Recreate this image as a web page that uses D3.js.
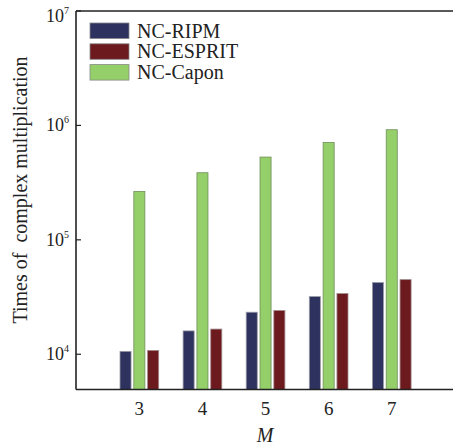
<!DOCTYPE html>
<html>
<head>
<meta charset="utf-8">
<script src="https://cdn.jsdelivr.net/npm/d3@7"></script>
<style>
  body { margin: 0; background: #fff; }
</style>
</head>
<body>
<svg id="chart" width="453" height="448" font-family="Liberation Serif" fill="#222"></svg>
<script>
// data
const Ms = [3, 4, 5, 6, 7];
const seriesNames = ["NC-RIPM", "NC-ESPRIT", "NC-Capon"];
const ripm   = [1.06e4, 1.60e4, 2.33e4, 3.19e4, 4.23e4];
const esprit = [1.08e4, 1.66e4, 2.41e4, 3.39e4, 4.49e4];
const capon  = [2.65e5, 3.86e5, 5.29e5, 7.10e5, 9.17e5];
const yTicks = [1e4, 1e5, 1e6, 1e7];

const colors = { "NC-RIPM": "#2d325e", "NC-ESPRIT": "#6c1a1e", "NC-Capon": "#95cf6a" };
const strokes = { "NC-RIPM": "#9a9aa6", "NC-ESPRIT": "#a08a8a", "NC-Capon": "#6f8f5a" };
// drawing order within a group: blue, green, red
const barOrder = ["NC-RIPM", "NC-Capon", "NC-ESPRIT"];
const values = { "NC-RIPM": ripm, "NC-ESPRIT": esprit, "NC-Capon": capon };

const svg = d3.select("#chart");
const plotL = 76, plotR = 453, plotT = 11, plotB = 389.5;

const x = d3.scaleBand().domain(Ms).range([107.8, 423.3]).padding(0);
const xs = d3.scaleBand().domain(barOrder).range([-19.35, 19.35]).paddingInner(0.2);
const y = d3.scaleLog().domain([Math.pow(10, 3.692), 1e7]).range([plotB, plotT]);

// bars
const groups = svg.append("g").selectAll("g")
  .data(Ms)
  .enter().append("g")
  .attr("transform", (d) => "translate(" + (x(d) + x.bandwidth() / 2) + ",0)");

groups.selectAll("rect")
  .data((d, i) => barOrder.map((s) => ({ s: s, v: values[s][i] })))
  .enter().append("rect")
  .attr("x", (d) => xs(d.s))
  .attr("width", xs.bandwidth())
  .attr("y", (d) => y(d.v))
  .attr("height", (d) => plotB - y(d.v))
  .attr("fill", (d) => colors[d.s])
  .attr("stroke", (d) => strokes[d.s])
  .attr("stroke-width", 0.8);

// frame: left, bottom, top
const frame = svg.append("g").attr("stroke", "#222").attr("stroke-width", 1.6).attr("fill", "none");
frame.append("line").attr("x1", plotL).attr("x2", plotL).attr("y1", plotT).attr("y2", plotB);
frame.append("line").attr("x1", plotL).attr("x2", plotR).attr("y1", plotB).attr("y2", plotB);
frame.append("line").attr("x1", plotL).attr("x2", plotR).attr("y1", plotT).attr("y2", plotT);

// y axis ticks (inward) with 10^n labels
const yAxis = svg.append("g");
yAxis.selectAll("line")
  .data(yTicks)
  .enter().append("line")
  .attr("x1", plotL).attr("x2", plotL + 5)
  .attr("y1", (d) => y(d)).attr("y2", (d) => y(d))
  .attr("stroke", "#222").attr("stroke-width", 1.2);

const yl = yAxis.selectAll("text")
  .data(yTicks)
  .enter().append("text")
  .attr("x", plotL - 7)
  .attr("y", (d) => Math.max(y(d) + 6, 22))
  .attr("text-anchor", "end")
  .attr("font-size", 18);
yl.append("tspan").text("10");
yl.append("tspan")
  .attr("dy", -8)
  .attr("font-size", 10)
  .text((d) => Math.round(Math.log10(d)));

// x tick labels
svg.append("g").selectAll("text")
  .data(Ms)
  .enter().append("text")
  .attr("x", (d) => x(d) + x.bandwidth() / 2)
  .attr("y", 415)
  .attr("text-anchor", "middle")
  .attr("font-size", 19)
  .text((d) => d);

// axis titles
svg.append("text")
  .attr("x", 265).attr("y", 442)
  .attr("text-anchor", "middle")
  .attr("font-size", 20)
  .attr("font-style", "italic")
  .text("M");

svg.append("text")
  .attr("transform", "translate(27,190) rotate(-90)")
  .attr("text-anchor", "middle")
  .attr("font-size", 20)
  .attr("xml:space", "preserve")
  .text("Times of  complex multiplication");

// legend
const legend = svg.append("g").attr("transform", "translate(90,23)");
const li = legend.selectAll("g")
  .data(seriesNames)
  .enter().append("g")
  .attr("transform", (d, i) => "translate(0," + i * 20.8 + ")");
li.append("rect")
  .attr("width", 39).attr("height", 15.5)
  .attr("fill", (d) => colors[d])
  .attr("stroke", "#888").attr("stroke-width", 0.8);
li.append("text")
  .attr("x", 47).attr("y", 14.5)
  .attr("font-size", 20)
  .text((d) => d);
</script>
</body>
</html>
